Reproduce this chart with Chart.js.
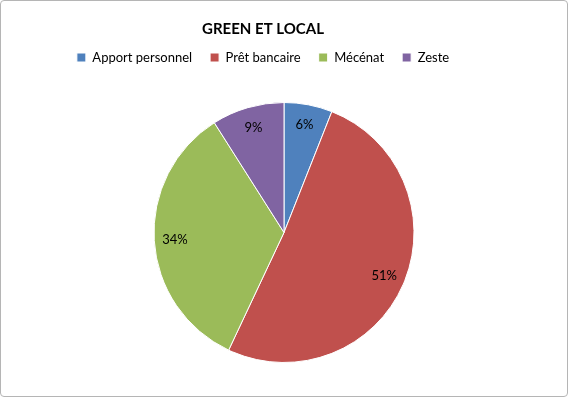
<!DOCTYPE html>
<html lang="fr">
<head>
<meta charset="UTF-8">
<title>GREEN ET LOCAL</title>
<script src="https://cdn.jsdelivr.net/npm/chart.js@4.4.7/dist/chart.umd.min.js"></script>
<style>
  * { margin: 0; padding: 0; box-sizing: border-box; }
  html, body { width: 568px; height: 397px; background: #fff; overflow: hidden; }
  .frame {
    position: absolute; left: 0; top: 0;
    width: 568px; height: 397px;
    border: 1.5px solid #b5b5b5;
    border-radius: 4px;
  }
  .chart-box { position: absolute; left: 0; top: 0; width: 568px; height: 397px; }
</style>
</head>
<body>
<div class="chart-box"><canvas id="pie"></canvas></div>
<div class="frame"></div>
<script>
const categories = ['Apport personnel', 'Prêt bancaire', 'Mécénat', 'Zeste'];
const shares = [6, 51, 34, 9];
const sliceColors = ['#4F81BD', '#C0504D', '#9BBB59', '#8064A2'];

const FONT = 'Lato, "Open Sans", sans-serif';

// étiquettes de pourcentage à l'intérieur des parts
const pctLabels = {
  id: 'pctLabels',
  afterDatasetsDraw(chart) {
    const ctx = chart.ctx;
    const meta = chart.getDatasetMeta(0);
    const total = shares.reduce((a, b) => a + b, 0);
    ctx.save();
    ctx.font = '13px ' + FONT;
    ctx.fillStyle = '#000';
    ctx.textAlign = 'center';
    ctx.textBaseline = 'middle';
    meta.data.forEach((arc, i) => {
      const p = arc.getProps(['x', 'y', 'startAngle', 'endAngle', 'outerRadius']);
      const mid = (p.startAngle + p.endAngle) / 2;
      const r = p.outerRadius * 0.84;
      const pct = Math.round(shares[i] / total * 100) + '%';
      ctx.fillText(pct, p.x + Math.cos(mid) * r, p.y + Math.sin(mid) * r);
    });
    ctx.restore();
  }
};

// espace sous la légende + titre/légende un peu à gauche comme dans Excel
const legendGap = {
  id: 'legendGap',
  beforeInit(chart) {
    const fit = chart.legend.fit;
    chart.legend.fit = function () {
      fit.bind(chart.legend)();
      this.height += 28;
    };
  },
  afterLayout(chart) {
    const shift = 21;
    chart.legend.left -= shift;
    chart.legend.right -= shift;
    chart.titleBlock.left -= 2 * shift;
  }
};

new Chart(document.getElementById('pie'), {
  type: 'pie',
  data: {
    labels: categories,
    datasets: [{
      data: shares,
      backgroundColor: sliceColors,
      borderColor: '#ffffff',
      borderWidth: 1,
    }]
  },
  options: {
    responsive: true,
    maintainAspectRatio: false,
    animation: false,
    layout: { padding: { top: 12, bottom: 34, left: 0, right: 0 } },
    plugins: {
      title: {
        display: true,
        text: 'GREEN ET LOCAL',
        color: '#000',
        font: { family: FONT, size: 15, weight: 'bold' },
        padding: { top: 8, bottom: -5 }
      },
      legend: {
        position: 'top',
        labels: {
          color: '#000',
          boxWidth: 9,
          boxHeight: 9,
          padding: 18,
          font: { family: FONT, size: 13 }
        }
      },
      tooltip: { enabled: false }
    }
  },
  plugins: [pctLabels, legendGap]
});
</script>
</body>
</html>
